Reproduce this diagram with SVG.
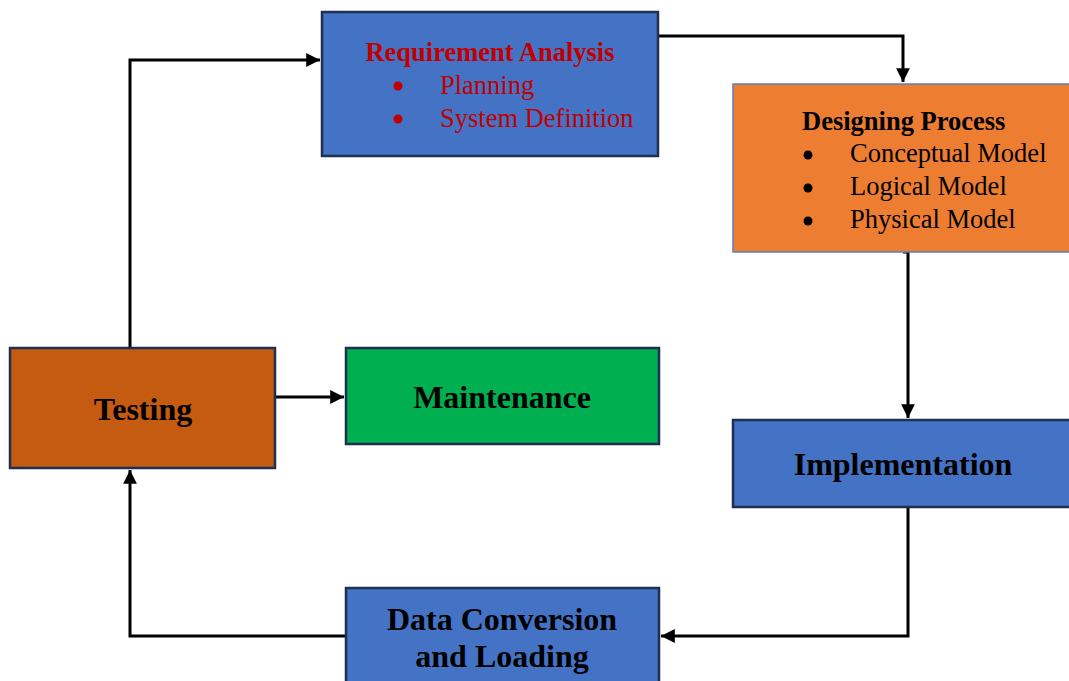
<svg xmlns="http://www.w3.org/2000/svg" width="1069" height="681" viewBox="0 0 1069 681">
<defs>
<marker id="arr" viewBox="0 0 10 10" refX="10" refY="5" markerWidth="5" markerHeight="4.6" orient="auto" markerUnits="strokeWidth">
<path d="M0,0 L10,5 L0,10 z" fill="#000"/>
</marker>
<style>
.box{stroke:#1F2F52;stroke-width:2.5}
.blue{fill:#4472C4}
.t{font-family:"Liberation Serif","Times New Roman",serif}
.big{font-size:32px;font-weight:bold;fill:#000;text-anchor:middle}
.red{fill:#C00000;font-size:26.5px}
.blk{fill:#000;font-size:26.5px}
.b{font-weight:bold}
.con{fill:none;stroke:#000;stroke-width:3}
</style>
</defs>
<rect width="1069" height="681" fill="#fff"/>
<g id="connectors">
<path class="con" d="M659,36 H903 V82" marker-end="url(#arr)"/>
<path class="con" d="M903,252 H908 V418" marker-end="url(#arr)"/>
<path class="con" d="M908,507 V636 H661" marker-end="url(#arr)"/>
<path class="con" d="M346,636 H130 V470" marker-end="url(#arr)"/>
<path class="con" d="M130,348 V60 H320" marker-end="url(#arr)"/>
<path class="con" d="M275,397 H344" marker-end="url(#arr)"/>
</g>
<g id="requirement">
<rect class="box blue" x="322" y="12" width="336" height="144"/>
<text class="t red b" x="490" y="61" text-anchor="middle">Requirement Analysis</text>
<circle cx="398" cy="86" r="4.5" fill="#C00000"/>
<text class="t red" x="440" y="94">Planning</text>
<circle cx="398" cy="119" r="4.5" fill="#C00000"/>
<text class="t red" x="440" y="127">System Definition</text>
</g>
<g id="designing">
<rect x="733" y="84" width="340" height="168" fill="#ED7D31" stroke="#5B7FC4" stroke-width="1.5"/>
<text class="t blk b" x="802" y="130">Designing Process</text>
<circle cx="808" cy="155" r="4.5" fill="#000"/>
<text class="t blk" x="850" y="162">Conceptual Model</text>
<circle cx="808" cy="188" r="4.5" fill="#000"/>
<text class="t blk" x="850" y="195">Logical Model</text>
<circle cx="808" cy="221" r="4.5" fill="#000"/>
<text class="t blk" x="850" y="228">Physical Model</text>
</g>
<g id="testing">
<rect class="box" x="10" y="348" width="265" height="120" fill="#C55A11"/>
<text class="t big" x="143" y="420">Testing</text>
</g>
<g id="maintenance">
<rect class="box" x="346" y="348" width="313" height="96" fill="#00B050"/>
<text class="t big" x="502" y="408">Maintenance</text>
</g>
<g id="implementation">
<rect class="box blue" x="733" y="420" width="340" height="87"/>
<text class="t big" x="903" y="475">Implementation</text>
</g>
<g id="dataconversion">
<rect class="box blue" x="346" y="588" width="313" height="100"/>
<text class="t big" x="502" y="630">Data Conversion</text>
<text class="t big" x="502" y="667">and Loading</text>
</g>
</svg>
